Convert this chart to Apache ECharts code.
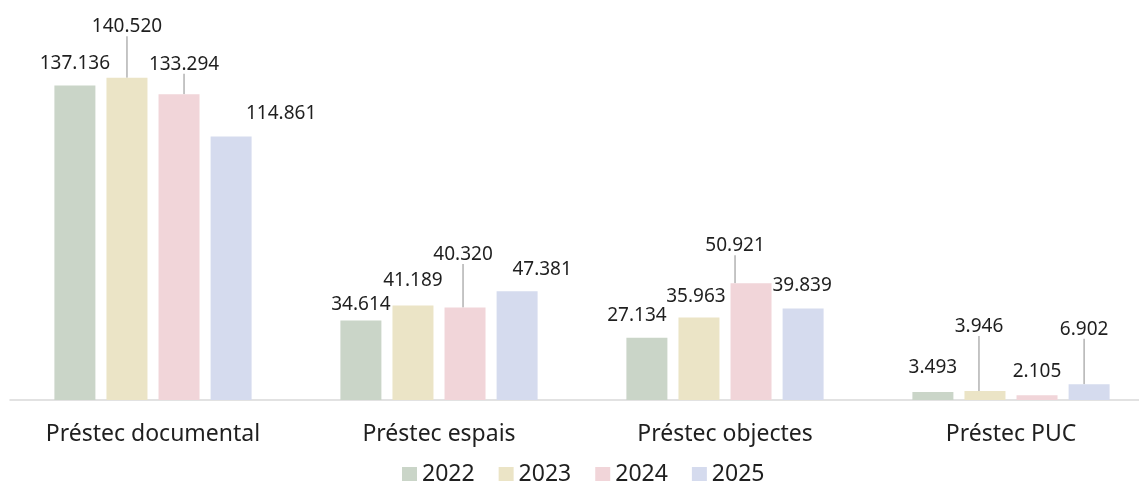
<!DOCTYPE html>
<html>
<head>
<meta charset="utf-8">
<script src="https://cdn.jsdelivr.net/npm/echarts@6/dist/echarts.min.js"></script>
<style>
    html, body { margin: 0; padding: 0; background: #fff; }
    #chart { width: 1139px; height: 481px; }
</style>
</head>
<body>
<div id="chart"></div>
<script>
const categories = ["Préstec documental", "Préstec espais", "Préstec objectes", "Préstec PUC"];
const years = ["2022", "2023", "2024", "2025"];
const v2022 = [137136, 34614, 27134, 3493];
const v2023 = [140520, 41189, 35963, 3946];
const v2024 = [133294, 40320, 50921, 2105];
const v2025 = [114861, 47381, 39839, 6902];
const colors = ["#cad5c8", "#ebe4c6", "#f1d5d9", "#d5dbee"];

// label nudges, like the hand-placed labels in the original
const labelShift = [
    [[0, -7], [0, -1.5], [-10, -8], [0, -9.5]],
    [[0, -36.5], [0, -10.5], [-3, -6.5], [-6, -50]],
    [[5, -15.5], [-2, -38.5], [-16, -23], [0, -9]],
    [[50, -8], [25, -7], [-1, -8.5], [-5, -40.5]]
];
const withLine = [
    [false, false, false, false],
    [true, false, false, true],
    [true, true, true, false],
    [false, false, false, true]
];

const fmt = (n) => n.toLocaleString("de-DE");
const font = "Noto Sans";

const chart = echarts.init(document.getElementById("chart"));

const makeSeries = (name, values, idx) => ({
    name: name,
    type: "bar",
    barWidth: 41,
    barGap: "27%",
    itemStyle: { color: colors[idx] },
    data: values.map((v, i) => ({
        value: v,
        labelLine: { show: withLine[idx][i] }
    })),
    label: {
        show: true,
        position: "top",
        distance: 5,
        color: "#1f1f1f",
        fontFamily: font,
        fontSize: 19,
        formatter: (p) => fmt(p.value)
    },
    labelLine: {
        lineStyle: { color: "#a6a6a6", width: 1.3 }
    },
    labelLayout: (p) => {
        const s = labelShift[idx][p.dataIndex];
        return { dx: s[0], dy: s[1] };
    }
});

chart.setOption({
    animation: false,
    grid: {
        left: 10,
        width: 1144,
        top: 33,
        bottom: 81,
        outerBoundsMode: "none"
    },
    legend: {
        data: years,
        left: 397,
        top: 458,
        icon: "rect",
        itemWidth: 15,
        itemHeight: 15,
        itemGap: 24,
        textStyle: { fontFamily: font, fontSize: 23, color: "#1f1f1f" }
    },
    xAxis: {
        type: "category",
        data: categories,
        axisLine: { lineStyle: { color: "#d9d9d9", width: 1.5 } },
        axisTick: { show: false },
        axisLabel: {
            margin: 23,
            interval: 0,
            fontFamily: font,
            fontSize: 23,
            color: "#1f1f1f"
        }
    },
    yAxis: {
        type: "value",
        min: 0,
        max: 160000,
        show: false,
        splitLine: { show: false }
    },
    series: [
        makeSeries(years[0], v2022, 0),
        makeSeries(years[1], v2023, 1),
        makeSeries(years[2], v2024, 2),
        makeSeries(years[3], v2025, 3)
    ]
});
</script>
</body>
</html>
